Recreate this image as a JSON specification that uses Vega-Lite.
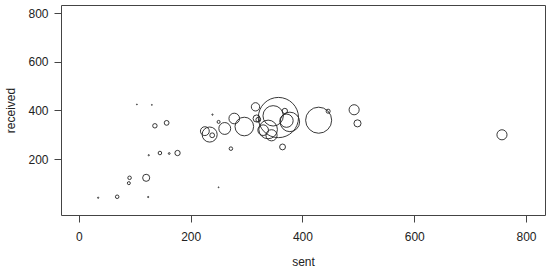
{
  "$schema": "https://vega.github.io/schema/vega-lite/v6.json",
  "width": 484,
  "height": 210,
  "autosize": {"type": "none"},
  "padding": {"left": 61, "top": 5, "right": 5, "bottom": 61},
  "background": "white",
  "config": {
    "view": {"stroke": "#444", "strokeWidth": 1},
    "font": "Liberation Sans",
    "axis": {
      "domain": false,
      "grid": false,
      "tickColor": "#444",
      "tickSize": 7,
      "labelFont": "Liberation Sans",
      "labelFontSize": 12,
      "labelColor": "#222",
      "titleFont": "Liberation Sans",
      "titleFontSize": 12,
      "titleFontWeight": "normal",
      "titleColor": "#222"
    }
  },
  "data": {
    "values": [
      {"sent": 34.5, "received": 41, "weight": 0.7},
      {"sent": 68.5, "received": 45, "weight": 2},
      {"sent": 124, "received": 44, "weight": 0.7},
      {"sent": 90.7, "received": 123, "weight": 2},
      {"sent": 89.4, "received": 101, "weight": 1.7},
      {"sent": 120.4, "received": 123, "weight": 4},
      {"sent": 125, "received": 216, "weight": 0.7},
      {"sent": 145, "received": 225, "weight": 2},
      {"sent": 161.6, "received": 223, "weight": 1},
      {"sent": 176.5, "received": 225, "weight": 3},
      {"sent": 103.8, "received": 425, "weight": 0.5},
      {"sent": 130.6, "received": 423, "weight": 0.5},
      {"sent": 136, "received": 337, "weight": 2.5},
      {"sent": 157, "received": 349, "weight": 2.7},
      {"sent": 250, "received": 84, "weight": 0.5},
      {"sent": 239, "received": 383, "weight": 0.7},
      {"sent": 272, "received": 243, "weight": 2},
      {"sent": 225.4, "received": 315, "weight": 5},
      {"sent": 234, "received": 301, "weight": 8.5},
      {"sent": 238.5, "received": 298, "weight": 2.7},
      {"sent": 250, "received": 353, "weight": 1.7},
      {"sent": 261, "received": 326, "weight": 6.7},
      {"sent": 278, "received": 367, "weight": 6},
      {"sent": 296, "received": 334, "weight": 10.5},
      {"sent": 316, "received": 415, "weight": 4.7},
      {"sent": 318, "received": 367, "weight": 4},
      {"sent": 321, "received": 362, "weight": 2.7},
      {"sent": 329.7, "received": 319, "weight": 6},
      {"sent": 344.7, "received": 298, "weight": 6.3},
      {"sent": 357, "received": 371, "weight": 22.7},
      {"sent": 338.6, "received": 322, "weight": 10.5},
      {"sent": 347.6, "received": 378, "weight": 11.5},
      {"sent": 368.5, "received": 398, "weight": 3},
      {"sent": 371.5, "received": 358, "weight": 7.5},
      {"sent": 377.5, "received": 353, "weight": 11},
      {"sent": 364.4, "received": 250, "weight": 3.3},
      {"sent": 429, "received": 360, "weight": 14.7},
      {"sent": 446, "received": 397, "weight": 2.3},
      {"sent": 492.5, "received": 403, "weight": 5.7},
      {"sent": 498.5, "received": 347, "weight": 4},
      {"sent": 757, "received": 300, "weight": 5.7}
    ]
  },
  "mark": {"type": "point", "shape": "circle", "filled": false, "stroke": "#222", "strokeWidth": 0.9, "opacity": 1},
  "encoding": {
    "x": {
      "field": "sent", "type": "quantitative",
      "scale": {"domain": [-32, 834], "nice": false, "zero": false},
      "axis": {"values": [0, 200, 400, 600, 800], "labelPadding": 9, "titlePadding": 14, "title": "sent"}
    },
    "y": {
      "field": "received", "type": "quantitative",
      "scale": {"domain": [-30, 834], "nice": false, "zero": false},
      "axis": {"values": [200, 400, 600, 800], "labelPadding": 6, "titlePadding": 10, "title": "received"}
    },
    "size": {
      "field": "weight", "type": "quantitative",
      "scale": {"type": "pow", "exponent": 2, "domain": [0, 23], "range": [0, 1662]},
      "legend": null
    }
  }
}
